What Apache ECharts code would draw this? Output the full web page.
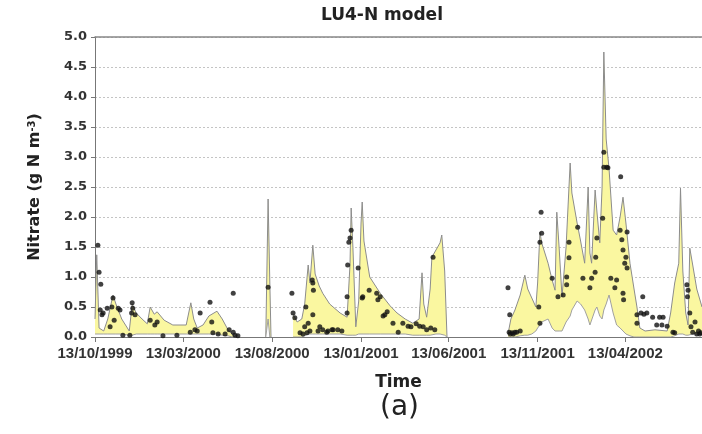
<!DOCTYPE html>
<html>
<head>
<meta charset="utf-8">
<script src="https://cdn.jsdelivr.net/npm/echarts@6/dist/echarts.min.js"></script>
<style>
html,body{margin:0;padding:0;background:#fff;}
#chart{width:702px;height:434px;}
</style>
</head>
<body>
<div id="chart"></div>
<script>
// ---- Data (x values are days after 13/10/1999) ----
const tickLabels = ['13/10/1999','13/03/2000','13/08/2000','13/01/2001','13/06/2001','13/11/2001','13/04/2002'];

// model band (lower / upper bound), null = gap
const bandDay = [
  0,3,7,15,22,31,36,46,59,64,71,81,90,95,102,107,119,134,157,165,170,176,186,196,210,219,229,236,241,
  260,
  294,298,301,303,
  320,
  341,348,356,361,367,370,375,379,386,392,404,422,434,439,441,444,449,454,458,460,463,473,491,508,520,534,547,558,563,566,571,577,580,587,594,597,602,606,
  650,
  711,716,723,732,740,745,752,759,762,766,769,780,787,792,795,799,804,811,818,821,830,836,843,849,852,855,861,864,869,873,876,880,885,892,898,904,909,914,921,928,933,938,947,964,985,991,998,1005,1008,1012,1017,1021,1024,1029,1036,1045
];
const bandLow = [
  0.05,0.05,0.05,0.05,0.05,0.05,0.05,0.05,0.03,0.03,0.05,0.05,0.05,0.05,0.05,0.05,0.05,0.05,0.05,0.05,0.05,0.05,0.05,0.05,0.05,0.03,0.02,0,0,
  null,
  0,0.3,0,0,
  null,
  0,0,0,0.02,0.05,0.05,0.05,0.05,0.05,0.05,0.05,0.05,0.03,0.03,0.03,0.03,0.03,0.05,0.05,0.05,0.05,0.05,0.05,0.05,0.05,0.05,0.03,0.03,0.03,0.03,0.03,0.03,0.03,0.05,0.05,0.05,0.03,0,
  null,
  0,0,0,0.02,0.03,0.03,0.05,0.1,0.15,0.2,0.25,0.3,0.15,0.1,0.1,0.1,0.1,0.25,0.35,0.45,0.6,0.55,0.45,0.3,0.2,0.2,0.45,0.5,0.35,0.3,0.45,0.55,0.7,0.4,0.2,0.15,0.1,0.05,0.02,0,0,0,0,0,0,0,0.02,0.05,0.05,0.05,0.03,0.03,0.05,0.05,0.05,0.05
];
const bandHigh = [
  0.3,1.37,0.15,0.1,0.3,0.7,0.55,0.3,0.1,0.55,0.4,0.3,0.22,0.5,0.38,0.42,0.28,0.2,0.2,0.57,0.3,0.15,0.2,0.35,0.43,0.3,0.12,0.05,0,
  null,
  0,2.3,0.9,0,
  null,
  0.38,0.25,0.3,0.55,1.2,0.9,1.53,1.05,0.85,0.73,0.55,0.4,0.33,1.2,2.15,1.5,0.17,0.6,1.9,2.25,1.6,1.0,0.73,0.52,0.4,0.3,0.23,0.3,1.07,0.55,0.33,0.8,1.33,1.45,1.57,1.7,1.1,0,
  null,
  0.05,0.3,0.45,0.7,1.03,0.8,0.65,0.5,0.9,1.75,1.57,1.23,0.95,0.78,2.08,1.5,0.67,1.5,2.9,2.4,1.9,1.6,1.23,2.5,1.4,1.23,2.45,2.1,1.57,2.5,4.75,3.3,2.8,1.78,1.7,2.0,2.33,1.9,1.23,0.8,0.5,0.15,0.1,0.12,0.1,0.4,0.9,1.23,2.48,1.1,0.4,0.2,1.48,1.2,0.8,0.5
];

// observed nitrate
const obsDay = [
  5,7,10,9,12,14,21,31,29,26,33,40,43,48,64,63,65,69,60,95,103,107,117,141,164,172,176,181,198,201,203,212,224,231,238,241,246,238,298,
  339,341,344,353,358,361,365,363,367,374,375,376,375,387,392,401,410,418,434,434,435,439,437,441,453,460,461,472,485,491,487,503,499,496,513,522,530,539,544,553,559,565,571,578,585,582,
  370,384,399,408,425,
  711,714,713,718,723,732,768,766,769,764,766,787,797,806,812,812,816,816,831,840,852,855,861,862,864,874,876,876,883,881,888,895,898,904,905,907,909,914,916,912,916,909,910,943,933,940,945,950,933,960,972,978,967,976,985,995,998,1021,1020,1024,1026,1029,1033,1019,1041,
  715,720,726,1036,1039,1043
];
const obsVal = [
  1.53,1.08,0.88,0.45,0.37,0.4,0.48,0.65,0.5,0.17,0.28,0.48,0.45,0.03,0.57,0.4,0.48,0.37,0.03,0.28,0.2,0.25,0.02,0.03,0.08,0.12,0.1,0.4,0.58,0.25,0.07,0.05,0.05,0.12,0.08,0.03,0.02,0.73,0.83,
  0.73,0.4,0.32,0.07,0.05,0.17,0.07,0.5,0.23,0.95,0.9,0.78,0.37,0.17,0.12,0.1,0.12,0.12,0.4,0.67,1.2,1.65,1.58,1.78,1.15,0.65,0.67,0.78,0.73,0.67,0.62,0.42,0.37,0.35,0.23,0.08,0.23,0.18,0.17,0.22,0.18,0.17,0.12,0.15,0.12,1.33,
  0.1,0.1,0.08,0.12,0.1,
  0.82,0.37,0.08,0.07,0.08,0.1,2.08,1.58,1.73,0.5,0.23,0.98,0.67,0.7,1.0,0.87,1.32,1.58,1.83,0.98,0.82,0.98,1.08,1.33,1.65,1.98,3.08,2.83,2.82,2.83,0.98,0.82,0.95,1.78,2.67,1.62,1.45,1.33,1.75,1.23,1.15,0.73,0.62,0.67,0.37,0.4,0.38,0.4,0.23,0.33,0.33,0.33,0.2,0.2,0.18,0.08,0.07,0.78,0.67,0.4,0.17,0.08,0.25,0.87,0.05,
  0.05,0.05,0.08,0.05,0.1,0.07
];

// ---- Build ----
const DAY = 86400000;
function parseDMY(s){ const p = s.split('/').map(Number); return Date.UTC(p[2], p[1]-1, p[0]); }
const T0 = parseDMY(tickLabels[0]);
const xMaxDays = 1045;
const tickDays = tickLabels.map(s => Math.round((parseDMY(s) - T0) / DAY));
const pad = n => (n < 10 ? '0' : '') + n;
function fmt(days){ const d = new Date(T0 + days * DAY); return pad(d.getUTCDate()) + '/' + pad(d.getUTCMonth()+1) + '/' + d.getUTCFullYear(); }

const upperData = bandDay.map((d,i) => [d, bandHigh[i]]);
const lowerData = bandDay.map((d,i) => [d, bandLow[i]]);
const obsData = obsDay.map((d,i) => [d, obsVal[i]]);

const chart = echarts.init(document.getElementById('chart'), null, {renderer: 'canvas'});
chart.setOption({
  animation: false,
  backgroundColor: '#fff',
  title: [{
    text: 'LU4-N model', left: 321, top: 7, padding: 0,
    textStyle: {fontFamily: 'DejaVu Sans', fontWeight: 'bold', fontSize: 17, color: '#222'}
  }, {
    text: '(a)', left: 380, top: 394, padding: 0,
    textStyle: {fontFamily: 'DejaVu Sans', fontWeight: 'normal', fontSize: 28, color: '#222'}
  }],
  grid: {left: 95, right: 0, top: 37, bottom: 97, containLabel: false},
  xAxis: [{
    type: 'value', min: 0, max: xMaxDays, position: 'bottom',
    name: 'Time', nameLocation: 'middle', nameGap: 37,
    nameTextStyle: {fontFamily: 'DejaVu Sans', fontWeight: 'bold', fontSize: 17, color: '#222'},
    axisLine: {show: true, onZero: false, lineStyle: {color: '#777', width: 1}},
    axisTick: {show: true, customValues: tickDays, length: 5, inside: false, lineStyle: {color: '#777'}},
    axisLabel: {show: true, customValues: tickDays, formatter: v => fmt(v), margin: 9,
      fontFamily: 'Liberation Sans', fontWeight: 'bold', fontSize: 15, color: '#333', hideOverlap: false},
    splitLine: {show: false}, minorTick: {show: false}
  }, {
    type: 'value', min: 0, max: xMaxDays, position: 'top',
    axisLine: {show: true, onZero: false, lineStyle: {color: '#888', width: 1.5}},
    axisTick: {show: false}, axisLabel: {show: false}, splitLine: {show: false}
  }],
  yAxis: {
    type: 'value', min: 0, max: 5, interval: 0.5,
    name: 'Nitrate (g N m{sup|-3})', nameLocation: 'middle', nameRotate: 90, nameGap: 52,
    nameTextStyle: {fontFamily: 'DejaVu Sans', fontWeight: 'bold', fontSize: 16, color: '#222',
      rich: {sup: {fontFamily: 'DejaVu Sans', fontWeight: 'bold', fontSize: 10, color: '#222', verticalAlign: 'top', padding: [0,0,6,0]}}},
    axisLine: {show: true, lineStyle: {color: '#777', width: 1}},
    axisTick: {show: true, length: 4, inside: false, lineStyle: {color: '#777'}},
    axisLabel: {formatter: v => v.toFixed(1), margin: 8, fontFamily: 'DejaVu Sans', fontWeight: 'bold', fontSize: 13, color: '#333'},
    splitLine: {show: true, lineStyle: {color: '#c4c4c4', type: [2, 2], width: 1}}
  },
  series: [{
    name: 'upper', type: 'line', data: upperData, xAxisIndex: 0,
    symbol: 'none', connectNulls: false,
    lineStyle: {color: '#8c8c8c', width: 1},
    areaStyle: {color: '#faf7a0', opacity: 1, origin: 'start'}, z: 2
  }, {
    name: 'lower', type: 'line', data: lowerData, xAxisIndex: 0,
    symbol: 'none', connectNulls: false,
    lineStyle: {color: '#a0a0a0', width: 1},
    areaStyle: {color: '#ffffff', opacity: 1, origin: 'start'}, z: 3
  }, {
    name: 'observed', type: 'scatter', data: obsData, xAxisIndex: 0,
    symbol: 'circle', symbolSize: 5,
    itemStyle: {color: '#111'}, z: 5
  }]
});
</script>
</body>
</html>
